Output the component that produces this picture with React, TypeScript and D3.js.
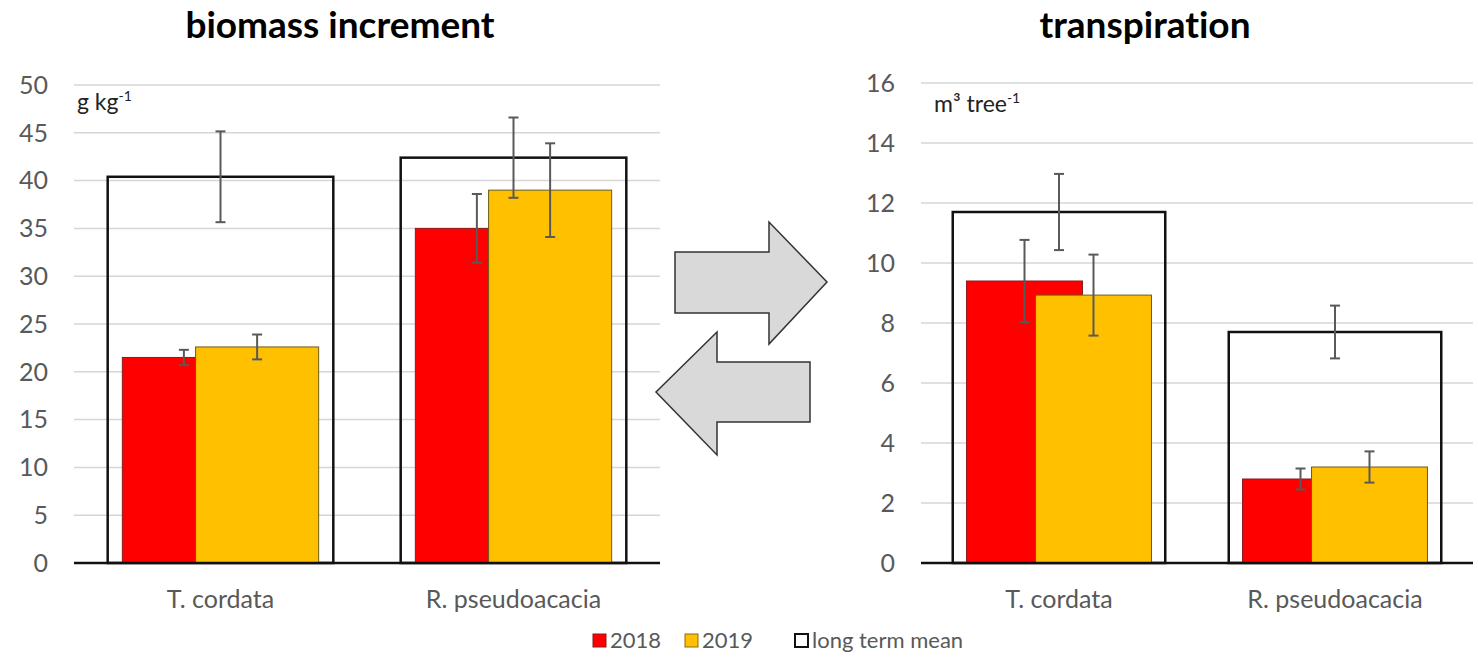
import React from "react";
import * as d3 from "d3";

const species = ["T. cordata", "R. pseudoacacia"];

// biomass increment, g kg-1
const biomass2018 = [21.5, 35.0];
const biomass2018Err = [0.8, 3.6];
const biomass2019 = [22.6, 39.0];
const biomass2019Err = [1.3, 4.9];
const biomassMean = [40.4, 42.4];
const biomassMeanErr = [4.75, 4.2];
const biomassTicks = [0, 5, 10, 15, 20, 25, 30, 35, 40, 45, 50];

// transpiration, m3 tree-1
const transp2018 = [9.4, 2.8];
const transp2018Err = [1.37, 0.35];
const transp2019 = [8.93, 3.2];
const transp2019Err = [1.35, 0.52];
const transpMean = [11.7, 7.7];
const transpMeanErr = [1.27, 0.88];
const transpTicks = [0, 2, 4, 6, 8, 10, 12, 14, 16];

const legendItems = ["2018", "2019", "long term mean"];

const W = 1478;
const H = 658;
const RED = "#ff0000";
const YELLOW = "#ffc000";
const GREY = "#595959";
const FONT = "Lato, 'Open Sans', sans-serif";

type PanelProps = {
  title: string;
  titleX: number;
  unit: React.ReactNode;
  left: number;
  right: number;
  top: number;
  bottom: number;
  ticks: number[];
  y2018: number[];
  e2018: number[];
  y2019: number[];
  e2019: number[];
  mean: number[];
  meanErr: number[];
};

function ErrorBar(props: { x: number; y1: number; y2: number }) {
  const { x, y1, y2 } = props;
  return (
    <g stroke={GREY} strokeWidth={2}>
      <line x1={x} x2={x} y1={y1} y2={y2} />
      <line x1={x - 5} x2={x + 5} y1={y1} y2={y1} />
      <line x1={x - 5} x2={x + 5} y1={y2} y2={y2} />
    </g>
  );
}

function Panel(p: PanelProps) {
  const x = d3.scaleBand<string>().domain(species).range([p.left, p.right]);
  const y = d3
    .scaleLinear()
    .domain([0, d3.max(p.ticks) as number])
    .range([p.bottom, p.top]);
  const B = x.bandwidth();
  const meanW = 0.77 * B;
  const subW = 0.42 * B;
  const off = 0.125 * B;

  return (
    <g>
      <text
        x={p.titleX}
        y={38}
        textAnchor="middle"
        fontFamily={FONT}
        fontWeight="bold"
        fontSize={37}
        fill="#000"
        style={{ fontVariantLigatures: "none" }}
      >
        {p.title}
      </text>
      {p.ticks.map((t) => (
        <g key={t}>
          {t > 0 && (
            <line
              x1={p.left}
              x2={p.right}
              y1={y(t)}
              y2={y(t)}
              stroke="#d6d6d6"
              strokeWidth={1.5}
            />
          )}
          <text
            x={p.left - 26}
            y={y(t)}
            dy="0.35em"
            textAnchor="end"
            fontFamily={FONT}
            fontSize={25}
            fill={GREY}
          >
            {t}
          </text>
        </g>
      ))}
      {p.unit}
      {species.map((s, i) => {
        const c = (x(s) as number) + B / 2;
        return (
          <g key={s}>
            <rect
              x={c - meanW / 2}
              y={y(p.mean[i])}
              width={meanW}
              height={y(0) - y(p.mean[i])}
              fill="none"
              stroke="#111"
              strokeWidth={2.5}
            />
            <rect
              x={c - off - subW / 2}
              y={y(p.y2018[i])}
              width={subW}
              height={y(0) - y(p.y2018[i])}
              fill={RED}
              stroke="#8a1a1a"
              strokeWidth={1}
            />
            <ErrorBar
              x={c - off}
              y1={y(p.y2018[i] + p.e2018[i])}
              y2={y(p.y2018[i] - p.e2018[i])}
            />
            <rect
              x={c + off - subW / 2}
              y={y(p.y2019[i])}
              width={subW}
              height={y(0) - y(p.y2019[i])}
              fill={YELLOW}
              stroke="#6b5a1a"
              strokeWidth={1}
            />
            <ErrorBar
              x={c + off}
              y1={y(p.y2019[i] + p.e2019[i])}
              y2={y(p.y2019[i] - p.e2019[i])}
            />
            <ErrorBar
              x={c}
              y1={y(p.mean[i] + p.meanErr[i])}
              y2={y(p.mean[i] - p.meanErr[i])}
            />
            <text
              x={c}
              y={p.bottom + 45}
              textAnchor="middle"
              fontFamily={FONT}
              fontSize={25}
              fill={GREY}
            >
              {s}
            </text>
          </g>
        );
      })}
      <line
        x1={p.left}
        x2={p.right}
        y1={y(0)}
        y2={y(0)}
        stroke="#111"
        strokeWidth={2.5}
      />
    </g>
  );
}

export default function App() {
  const legendX = [593, 685, 795];
  const legendFill = [RED, YELLOW, "#fff"];
  const legendStroke = ["#8a1a1a", "#8a6a10", "#111"];
  return (
    <svg
      width={W}
      height={H}
      style={{ position: "absolute", left: 0, top: 0, background: "#fff" }}
    >
      <Panel
        title="biomass increment"
        titleX={340}
        unit={
          <text x={77} y={110} fontFamily={FONT} fontSize={23} fill="#222">
            g kg
            <tspan dy={-9} fontSize={14}>
              -1
            </tspan>
          </text>
        }
        left={74}
        right={660}
        top={85}
        bottom={563}
        ticks={biomassTicks}
        y2018={biomass2018}
        e2018={biomass2018Err}
        y2019={biomass2019}
        e2019={biomass2019Err}
        mean={biomassMean}
        meanErr={biomassMeanErr}
      />
      <Panel
        title="transpiration"
        titleX={1145}
        unit={
          <text x={934} y={112} fontFamily={FONT} fontSize={23} fill="#222">
            m³ tree
            <tspan dy={-9} fontSize={14}>
              -1
            </tspan>
          </text>
        }
        left={921}
        right={1473}
        top={83}
        bottom={563}
        ticks={transpTicks}
        y2018={transp2018}
        e2018={transp2018Err}
        y2019={transp2019}
        e2019={transp2019Err}
        mean={transpMean}
        meanErr={transpMeanErr}
      />
      {/* exchange arrows between the panels */}
      <g fill="#d9d9d9" stroke="#333" strokeWidth={1.5} strokeLinejoin="miter">
        <path d="M675,252 L769,252 L769,222 L827,282 L769,344 L769,313 L675,313 Z" />
        <path d="M810,362 L717,362 L717,332 L656,392 L717,455 L717,422 L810,422 Z" />
      </g>
      {legendItems.map((l, i) => (
        <g key={l}>
          <rect
            x={legendX[i]}
            y={634}
            width={13}
            height={13}
            fill={legendFill[i]}
            stroke={legendStroke[i]}
            strokeWidth={i === 2 ? 2 : 1}
          />
          <text
            x={legendX[i] + 17}
            y={648}
            fontFamily={FONT}
            fontSize={22}
            fill={GREY}
          >
            {l}
          </text>
        </g>
      ))}
    </svg>
  );
}
